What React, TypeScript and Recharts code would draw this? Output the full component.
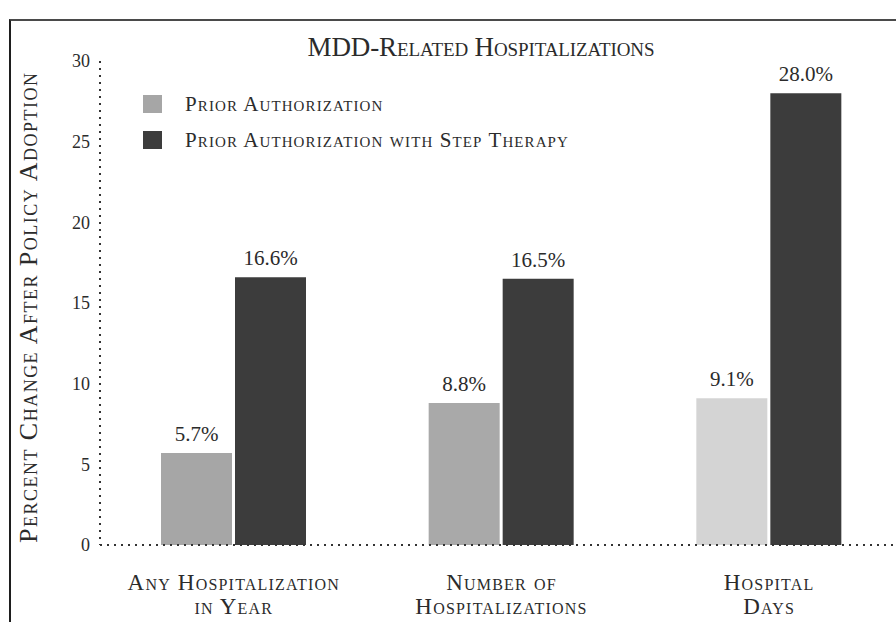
import React from 'react';
import { BarChart, Bar, XAxis, YAxis, LabelList, Cell, Label } from 'recharts';

const categories = ['Any Hospitalization in Year', 'Number of Hospitalizations', 'Hospital Days'];
const categoryLines = [
  ['Any Hospitalization', 'in Year'],
  ['Number of', 'Hospitalizations'],
  ['Hospital', 'Days'],
];
const priorAuth = [5.7, 8.8, 9.1];
const stepTherapy = [16.6, 16.5, 28.0];
const yTicks = [0, 5, 10, 15, 20, 25, 30];
const seriesNames = ['Prior Authorization', 'Prior Authorization with Step Therapy'];

const data = categories.map((name, i) => ({
  name,
  lines: categoryLines[i],
  pa: priorAuth[i],
  st: stepTherapy[i],
}));

const FONT = "'Liberation Serif', 'DejaVu Serif', serif";
const INK = '#2b2b2b';
const LIGHT = ['#a6a6a6', '#a9a9a9', '#d4d4d4'];
const DARK = '#3c3c3c';

const XTick = (props: any) => {
  const { x, y, payload } = props;
  const lines = data[payload.index]?.lines ?? [payload.value];
  return (
    <g>
      {lines.map((l: string, i: number) => (
        <text
          key={i}
          x={x}
          y={y + 37 + i * 24}
          textAnchor="middle"
          fill={INK}
          style={{ fontFamily: FONT, fontSize: 23, fontVariant: 'small-caps', letterSpacing: 1.2 }}
        >
          {l}
        </text>
      ))}
    </g>
  );
};

const LegendBox = () => (
  <div style={{ position: 'absolute', left: 143, top: 86, fontFamily: FONT, color: INK }}>
    {seriesNames.map((n, i) => (
      <div key={n} style={{ display: 'flex', alignItems: 'center', height: 36 }}>
        <span
          style={{
            display: 'inline-block',
            width: 19,
            height: 18,
            background: i === 0 ? LIGHT[0] : DARK,
            marginRight: 23,
          }}
        />
        <span style={{ fontSize: 21, fontVariant: 'small-caps', letterSpacing: 1.1, whiteSpace: 'nowrap' }}>{n}</span>
      </div>
    ))}
  </div>
);

export default function App() {
  return (
    <div style={{ position: 'absolute', left: 0, top: 0, width: 896, height: 622, overflow: 'hidden', background: '#fff' }}>
      <div
        style={{
          position: 'absolute',
          left: 9,
          top: 19,
          width: 900,
          height: 700,
          borderLeft: '2px solid #1e1e1e',
          borderTop: '2px solid #4a4a4a',
        }}
      />
      <BarChart
        width={920}
        height={622}
        data={data}
        margin={{ top: 61, right: 17, bottom: 17, left: 40 }}
        barSize={71}
        barGap={3}
        style={{ position: 'absolute', left: 0, top: 0 }}
      >
        <text
          x={481}
          y={56}
          textAnchor="middle"
          fill={INK}
          textLength={347}
          lengthAdjust="spacing"
          style={{ fontFamily: FONT, fontSize: 27, fontVariant: 'small-caps' }}
        >
          MDD-Related Hospitalizations
        </text>
        <XAxis
          dataKey="name"
          height={60}
          tickLine={false}
          axisLine={{ stroke: '#333', strokeWidth: 2, strokeDasharray: '2 5' }}
          tick={<XTick />}
          interval={0}
        />
        <YAxis
          width={60}
          domain={[0, 30]}
          ticks={yTicks}
          tickLine={false}
          tickMargin={4}
          axisLine={{ stroke: '#333', strokeWidth: 2, strokeDasharray: '2 5' }}
          tick={{ fill: INK, fontSize: 18, fontFamily: FONT }}
        >
          <Label
            content={() => (
              <text
                x={37}
                y={308}
                transform="rotate(-90, 37, 308)"
                textAnchor="middle"
                fill={INK}
                textLength={470}
                lengthAdjust="spacing"
                style={{ fontFamily: FONT, fontSize: 26, fontVariant: 'small-caps' }}
              >
                Percent Change After Policy Adoption
              </text>
            )}
          />
        </YAxis>
        <Bar dataKey="pa" name={seriesNames[0]} isAnimationActive={false}>
          {data.map((_, i) => (
            <Cell key={i} fill={LIGHT[i]} />
          ))}
          <LabelList
            dataKey="pa"
            position="top"
            offset={12}
            formatter={(v: any) => `${Number(v).toFixed(1)}%`}
            style={{ fill: INK, fontSize: 21, fontFamily: FONT }}
          />
        </Bar>
        <Bar dataKey="st" name={seriesNames[1]} fill={DARK} isAnimationActive={false}>
          <LabelList
            dataKey="st"
            position="top"
            offset={12}
            formatter={(v: any) => `${Number(v).toFixed(1)}%`}
            style={{ fill: INK, fontSize: 21, fontFamily: FONT }}
          />
        </Bar>
      </BarChart>
      <LegendBox />
    </div>
  );
}
